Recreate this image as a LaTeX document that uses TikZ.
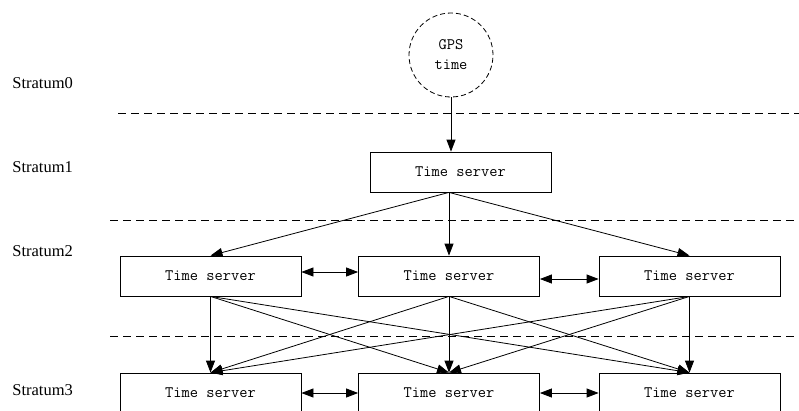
\documentclass[tikz,border=0pt]{standalone}
\usepackage{fontspec}
\setmainfont{Liberation Serif}
\usetikzlibrary{arrows.meta}
\tikzstyle{diagram} = [x = 1pt, y = -1pt, line width = .8pt]
\tikzstyle{serverStyle} = [draw, minimum width = 181pt, minimum height = 40pt, inner sep = 0pt, font = \ttfamily\fontsize{16}{16}\selectfont]
\tikzstyle{sourceStyle} = [draw, circle, dash pattern = on 5pt off 3pt, minimum size = 84pt, inner sep = 0pt, align = center, font = \ttfamily\fontsize{16}{20}\selectfont]
\tikzstyle{stratumText} = [anchor = west, inner sep = 0pt, font = \fontsize{16.5}{16.5}\selectfont]
\tikzstyle{stratumLine} = [dash pattern = on 8pt off 5pt]
\tikzstyle{link} = [-{Triangle[length = 12pt, width = 9pt]}]
\tikzstyle{twoWay} = [{Triangle[length = 12pt, width = 9pt]}-{Triangle[length = 12pt, width = 9pt]}]
\newcommand{\stratumLine}[2]{\draw [stratumLine] (#1, #2) -- (799, #2);}

\begin{document}
\begin{tikzpicture}[diagram]
  \useasboundingbox (0, 0) rectangle (799, 410);

  \node [stratumText] (labelZero) at (12, 83) {Stratum0};
  \node [stratumText] (labelOne) at (12, 167) {Stratum1};
  \node [stratumText] (labelTwo) at (12, 251) {Stratum2};
  \node [stratumText] (labelThree) at (12, 390) {Stratum3};

  \stratumLine{118}{113}
  \stratumLine{110}{220}
  \stratumLine{110}{336}

  \node [sourceStyle] (gps) at (451, 55) {GPS\\time};
  \node [serverStyle] (firstServer) at (460.5, 172) {Time server};

  \node [serverStyle] (secondLeft) at (210.5, 276) {Time server};
  \node [serverStyle] (secondMiddle) at (449, 276) {Time server};
  \node [serverStyle] (secondRight) at (689.5, 276) {Time server};

  \node [serverStyle] (thirdLeft) at (210.5, 393) {Time server};
  \node [serverStyle] (thirdMiddle) at (449, 393) {Time server};
  \node [serverStyle] (thirdRight) at (689.5, 393) {Time server};

  \draw [link] (gps.south) -- (gps.south |- firstServer.north);
  \foreach \target in {secondLeft, secondMiddle, secondRight} {
    \draw [link] (firstServer.south -| secondMiddle) -- (\target.north);
  }
  \foreach \source in {secondLeft, secondMiddle, secondRight} {
    \foreach \target in {thirdLeft, thirdMiddle, thirdRight} {
      \draw [link] (\source.south) -- (\target.north);
    }
  }

  \draw [twoWay] ([yshift = 4pt] secondLeft.east) -- ([yshift = 4pt] secondMiddle.west);
  \draw [twoWay] ([yshift = -3pt] secondMiddle.east) -- ([yshift = -3pt] secondRight.west);
  \draw [twoWay] (thirdLeft.east) -- (thirdMiddle.west);
  \draw [twoWay] (thirdMiddle.east) -- (thirdRight.west);
\end{tikzpicture}
\end{document}
